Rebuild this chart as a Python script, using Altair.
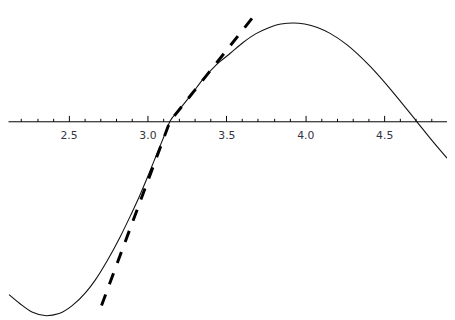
import altair as alt
import pandas as pd

# solid curve
curve_x = [2.123, 2.191, 2.272, 2.359, 2.440, 2.521, 2.608, 2.670, 2.745, 2.826,
           2.894, 2.950, 3.009, 3.065, 3.106, 3.143,
           3.187, 3.268, 3.355, 3.436, 3.523, 3.604, 3.685, 3.765, 3.846, 3.924,
           3.996, 4.077, 4.157, 4.263, 4.413, 4.556, 4.705, 4.805, 4.898]
curve_y = [-1.783, -1.874, -1.965, -2.000, -1.978, -1.899, -1.763, -1.631, -1.434, -1.192,
           -0.965, -0.768, -0.540, -0.313, -0.152, 0.0,
           0.091, 0.253, 0.439, 0.581, 0.697, 0.808, 0.899, 0.960, 1.000, 1.010,
           1.000, 0.965, 0.904, 0.788, 0.561, 0.298, 0.0, -0.202, -0.379]

# dashed tangent lines (left / right of the crossing)
dash_x = [2.709, 3.143, 3.666]
dash_y = [-1.894, 0.0, 1.066]

major_ticks = [2.5, 3.0, 3.5, 4.0, 4.5]
minor_ticks = [round(2.2 + 0.1 * i, 1) for i in range(27)]
tick_labels = ["2.5", "3.0", "3.5", "4.0", "4.5"]

x_domain = [2.1164, 4.898]
y_domain = [-2.015, 1.1364]

curve = pd.DataFrame({"x": curve_x, "y": curve_y})
dashed = pd.DataFrame({"x": dash_x, "y": dash_y})

xs = alt.Scale(domain=x_domain, nice=False, zero=False)
ys = alt.Scale(domain=y_domain, nice=False, zero=False)

H = 312
AXIS_Y = 112.5  # pixel row of y = 0 inside the plot

solid = alt.Chart(curve).mark_line(
    color="#111111", strokeWidth=1.1, interpolate="monotone"
).encode(
    x=alt.X("x:Q", scale=xs, axis=alt.Axis(
        orient="top", offset=-AXIS_Y, values=minor_ticks, labels=False,
        title=None, grid=False, domain=True, domainColor="black", domainWidth=1,
        ticks=True, tickColor="black", tickWidth=1,
        tickSize={"condition": {"test": "abs(datum.value*2 - round(datum.value*2)) < 0.001",
                                "value": 6}, "value": 3},
    )),
    y=alt.Y("y:Q", scale=ys, axis=None),
)

dash = alt.Chart(dashed).mark_line(
    color="black", strokeWidth=3, strokeDash=[12, 11]
).encode(
    x=alt.X("x:Q", scale=xs, axis=alt.Axis(
        orient="bottom", offset=-(H - AXIS_Y), values=major_ticks, title=None,
        grid=False, domain=False, ticks=False, tickSize=0,
        labelFont="DejaVu Sans", labelFontSize=11, labelColor="#333340",
        labelPadding=9,
        labelExpr="['2.5','3.0','3.5','4.0','4.5'][round(datum.value*2)-5]",
    )),
    y=alt.Y("y:Q", scale=ys, axis=None),
)

chart = alt.layer(solid, dash).resolve_axis(x="independent").properties(
    width=447, height=H, padding=0, autosize="none", background="white"
).configure_view(stroke=None)

chart.save("out.html", embed_options={"renderer": "svg", "actions": False})
